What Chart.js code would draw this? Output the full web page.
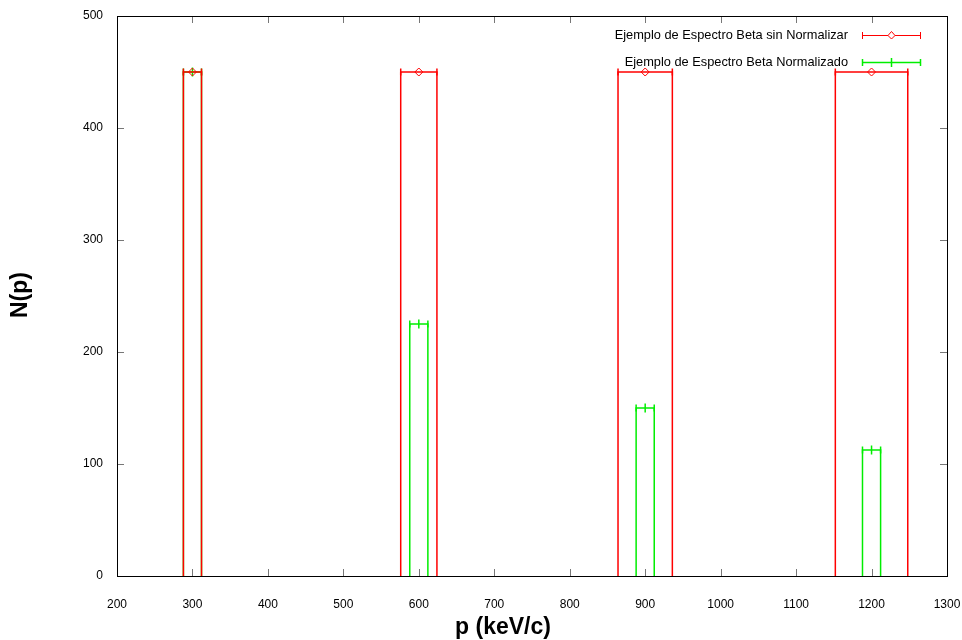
<!DOCTYPE html>
<html>
<head>
<meta charset="utf-8">
<script src="https://cdn.jsdelivr.net/npm/chart.js@4.4.0/dist/chart.umd.min.js"></script>
<style>
  html, body { margin: 0; padding: 0; background: #fff; }
  #wrap { width: 962px; height: 640px; }
</style>
</head>
<body>
<div id="wrap"><canvas id="myChart" width="962" height="640"></canvas></div>
<script>
// momentos centrales (keV/c)
const momentos = [300, 600, 900, 1200];
// espectro sin normalizar
const cuentasSinNorm = [450, 450, 450, 450];
const anchoSinNorm = [12, 24, 36, 48];
// espectro normalizado
const cuentasNorm = [450, 225, 150, 112.5];
const anchoNorm = [12, 12, 12, 12];
const xTicks = [200, 300, 400, 500, 600, 700, 800, 900, 1000, 1100, 1200, 1300];
const yTicks = [0, 100, 200, 300, 400, 500];

const ROJO = '#ff0000';
const VERDE = '#00ee00';
const FUENTE = '"Liberation Sans", Arial, sans-serif';

// contorno de las cajas (sin base)
function cajas(xs, ys, dx) {
    let pts = [];
    xs.forEach((x, i) => {
        pts.push({ x: x - dx[i], y: 0 });
        pts.push({ x: x - dx[i], y: ys[i] });
        pts.push({ x: x + dx[i], y: ys[i] });
        pts.push({ x: x + dx[i], y: 0 });
        pts.push({ x: x, y: null });
    });
    return pts;
}
// extremos de la barra de error en x
function extremos(xs, ys, dx) {
    let pts = [];
    xs.forEach((x, i) => {
        pts.push({ x: x - dx[i], y: ys[i] });
        pts.push({ x: x + dx[i], y: ys[i] });
    });
    return pts;
}
function centros(xs, ys) {
    return xs.map((x, i) => ({ x: x, y: ys[i] }));
}

// marcas hacia dentro, borde, títulos y leyenda al estilo gnuplot
const gnuplotStyle = {
    id: 'gnuplotStyle',
    afterDraw(chart) {
        const ctx = chart.ctx;
        const a = chart.chartArea;
        const xs = chart.scales.x, ys = chart.scales.y;
        ctx.save();
        ctx.strokeStyle = '#777';
        ctx.lineWidth = 1;
        ctx.beginPath();
        xTicks.forEach(v => {
            const px = Math.round(xs.getPixelForValue(v)) + 0.5;
            ctx.moveTo(px, a.bottom); ctx.lineTo(px, a.bottom - 7);
            ctx.moveTo(px, a.top); ctx.lineTo(px, a.top + 7);
        });
        yTicks.forEach(v => {
            const py = Math.round(ys.getPixelForValue(v)) + 0.5;
            ctx.moveTo(a.left, py); ctx.lineTo(a.left + 7, py);
            ctx.moveTo(a.right, py); ctx.lineTo(a.right - 7, py);
        });
        ctx.stroke();
        ctx.strokeStyle = '#000';
        ctx.strokeRect(Math.round(a.left) + 0.5, Math.round(a.top) + 0.5,
            Math.round(a.right - a.left), Math.round(a.bottom - a.top));

        // títulos de los ejes
        ctx.fillStyle = '#000';
        ctx.font = 'bold 23px ' + FUENTE;
        ctx.textAlign = 'center';
        ctx.textBaseline = 'middle';
        ctx.fillText('p (keV/c)', 503, 628);
        ctx.save();
        ctx.translate(21, 295);
        ctx.rotate(-Math.PI / 2);
        ctx.fillText('N(p)', 0, 0);
        ctx.restore();

        // leyenda
        const entradas = [
            { label: 'Ejemplo de Espectro Beta sin Normalizar', color: ROJO, diamante: true, y: 35 },
            { label: 'Ejemplo de Espectro Beta Normalizado', color: VERDE, diamante: false, y: 62 }
        ];
        ctx.font = '12.8px ' + FUENTE;
        ctx.textAlign = 'right';
        entradas.forEach(e => {
            ctx.fillStyle = '#000';
            ctx.fillText(e.label, 848, e.y);
            ctx.strokeStyle = e.color;
            ctx.lineWidth = e.diamante ? 1 : 1.5;
            ctx.beginPath();
            ctx.moveTo(862, e.y + 0.5); ctx.lineTo(920, e.y + 0.5);
            ctx.moveTo(862.5, e.y - 3); ctx.lineTo(862.5, e.y + 4);
            ctx.moveTo(920.5, e.y - 3); ctx.lineTo(920.5, e.y + 4);
            if (!e.diamante) {
                ctx.moveTo(891.5, e.y - 4); ctx.lineTo(891.5, e.y + 5);
            }
            ctx.stroke();
            if (e.diamante) {
                ctx.fillStyle = '#fff';
                ctx.beginPath();
                ctx.moveTo(891.5, e.y - 3.5); ctx.lineTo(895, e.y + 0.5);
                ctx.lineTo(891.5, e.y + 4); ctx.lineTo(888, e.y + 0.5);
                ctx.closePath();
                ctx.fill(); ctx.stroke();
            }
        });
        ctx.restore();
    }
};

const ctx = document.getElementById('myChart').getContext('2d');
const myChart = new Chart(ctx, {
    type: 'scatter',
    data: {
        datasets: [
            {
                label: 'Ejemplo de Espectro Beta sin Normalizar',
                data: centros(momentos, cuentasSinNorm),
                borderColor: ROJO,
                backgroundColor: 'rgba(255,255,255,0)',
                borderWidth: 1,
                pointStyle: 'rectRot',
                pointRadius: 4,
                order: 0
            },
            {
                label: 'extremos sin normalizar',
                data: extremos(momentos, cuentasSinNorm, anchoSinNorm),
                borderColor: ROJO,
                borderWidth: 1.5,
                pointStyle: 'line',
                rotation: 90,
                pointRadius: 3.5,
                order: 1
            },
            {
                label: 'cajas sin normalizar',
                data: cajas(momentos, cuentasSinNorm, anchoSinNorm),
                showLine: true,
                spanGaps: false,
                borderColor: ROJO,
                borderWidth: 1.5,
                pointRadius: 0,
                order: 2
            },
            {
                label: 'Ejemplo de Espectro Beta Normalizado',
                data: centros(momentos, cuentasNorm),
                borderColor: VERDE,
                borderWidth: 1.5,
                pointStyle: 'line',
                rotation: 90,
                pointRadius: 4.5,
                order: 3
            },
            {
                label: 'extremos normalizado',
                data: extremos(momentos, cuentasNorm, anchoNorm),
                borderColor: VERDE,
                borderWidth: 1.5,
                pointStyle: 'line',
                rotation: 90,
                pointRadius: 3.5,
                order: 4
            },
            {
                label: 'cajas normalizado',
                data: cajas(momentos, cuentasNorm, anchoNorm),
                showLine: true,
                spanGaps: false,
                borderColor: VERDE,
                borderWidth: 1.5,
                pointRadius: 0,
                order: 5
            }
        ]
    },
    options: {
        responsive: false,
        animation: false,
        layout: { padding: { top: 16, right: 15, left: 0, bottom: 0 } },
        plugins: {
            legend: { display: false },
            tooltip: { enabled: false }
        },
        scales: {
            x: {
                type: 'linear',
                min: 200,
                max: 1300,
                afterBuildTicks: (s) => { s.ticks = xTicks.map(v => ({ value: v })); },
                afterFit: (s) => {
                    s.height = 64;
                    s.paddingLeft = 0; s.paddingRight = 0;
                },
                grid: { display: false, drawTicks: false },
                border: { display: false },
                ticks: {
                    color: '#000',
                    padding: 21,
                    callback: (v) => String(v),
                    font: { family: FUENTE, size: 12 }
                }
            },
            y: {
                min: 0,
                max: 500,
                afterBuildTicks: (s) => { s.ticks = yTicks.map(v => ({ value: v })); },
                afterFit: (s) => {
                    s.width = 117;
                    s.paddingTop = 0; s.paddingBottom = 0;
                },
                grid: { display: false, drawTicks: false },
                border: { display: false },
                ticks: {
                    color: '#000',
                    padding: 14,
                    callback: (v) => String(v),
                    font: { family: FUENTE, size: 12 }
                }
            }
        }
    },
    plugins: [gnuplotStyle]
});
</script>
</body>
</html>
